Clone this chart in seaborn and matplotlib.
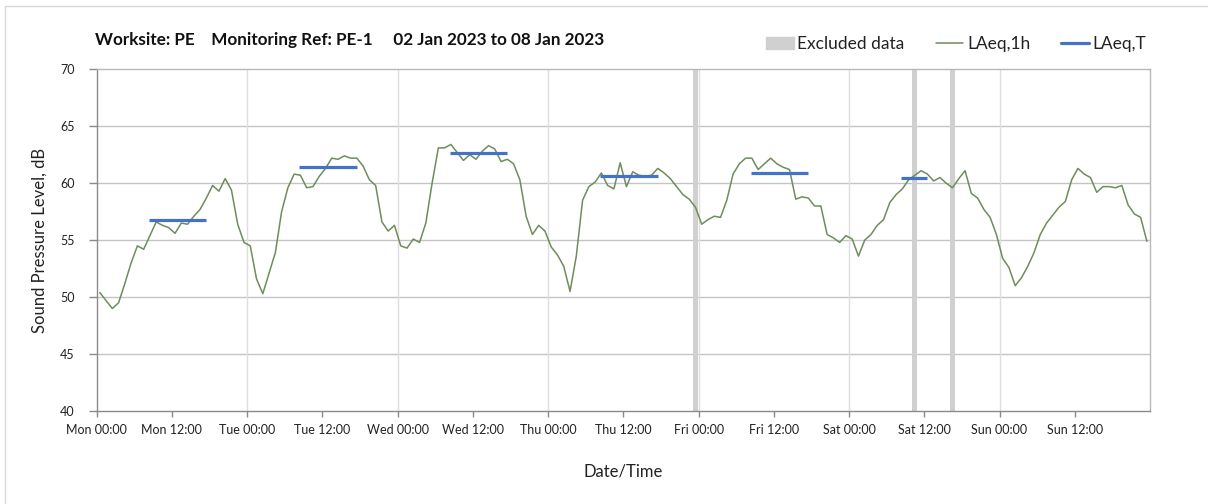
import numpy as np
import pandas as pd
import seaborn as sns
import matplotlib.pyplot as plt
from matplotlib.patches import Patch
from matplotlib.lines import Line2D

# hourly LAeq,1h values (dB), one list per day, starting at 00:00
mon = [50.4, 49.7, 49.0, 49.5, 51.2, 53.0, 54.5, 54.2, 55.4, 56.6, 56.3, 56.1,
       55.6, 56.5, 56.4, 57.1, 57.7, 58.7, 59.8, 59.3, 60.4, 59.4, 56.4, 54.8]
tue = [54.5, 51.6, 50.3, 52.1, 53.9, 57.5, 59.6, 60.8, 60.7, 59.6, 59.7, 60.6,
       61.3, 62.2, 62.1, 62.4, 62.2, 62.2, 61.5, 60.3, 59.8, 56.6, 55.8, 56.3]
wed = [54.5, 54.3, 55.1, 54.8, 56.5, 60.0, 63.1, 63.1, 63.4, 62.7, 62.0, 62.5,
       62.1, 62.8, 63.3, 63.0, 61.9, 62.1, 61.7, 60.3, 57.1, 55.5, 56.3, 55.8]
thu = [54.4, 53.7, 52.7, 50.5, 53.6, 58.5, 59.7, 60.1, 60.9, 59.8, 59.5, 61.8,
       59.7, 61.0, 60.7, 60.6, 60.7, 61.3, 60.9, 60.4, 59.7, 59.0, 58.6, 57.9]
fri = [56.4, 56.8, 57.1, 57.0, 58.5, 60.8, 61.7, 62.2, 62.2, 61.2, 61.7, 62.2,
       61.7, 61.4, 61.2, 58.6, 58.8, 58.7, 58.0, 58.0, 55.5, 55.2, 54.8, 55.4]
sat = [55.1, 53.6, 55.0, 55.5, 56.3, 56.8, 58.3, 59.0, 59.5, 60.3, 60.7, 61.1,
       60.8, 60.2, 60.5, 60.0, 59.6, 60.4, 61.1, 59.1, 58.7, 57.7, 57.0, 55.5]
sun = [53.4, 52.6, 51.0, 51.7, 52.7, 53.9, 55.5, 56.5, 57.2, 57.9, 58.4, 60.3,
       61.3, 60.8, 60.5, 59.2, 59.7, 59.7, 59.6, 59.8, 58.1, 57.3, 57.0, 54.9]

# LAeq,T over each daytime period (hours from Mon 00:00)
laeqt_start = [8.3, 32.3, 56.3, 80.3, 104.3, 128.3]
laeqt_end = [17.5, 41.5, 65.5, 89.5, 113.5, 132.5]
laeqt_value = [56.75, 61.45, 62.65, 60.65, 60.9, 60.5]

# hours flagged as excluded
excluded_hours = [95, 130, 136]

days = ["Mon", "Tue", "Wed", "Thu", "Fri", "Sat", "Sun"]
tick_labels = [f"{d} {h}" for d in days for h in ("00:00", "12:00")]

levels = mon + tue + wed + thu + fri + sat + sun
df = pd.DataFrame({"hour": np.arange(len(levels)) + 0.5, "level": levels})

sns.set_theme(style="white")
plt.rcParams["font.family"] = ["Lato", "DejaVu Sans"]

fig = plt.figure(figsize=(12.08, 5.04), dpi=100)
ax = fig.add_axes([0.080, 0.1845, 0.872, 0.678])

green = "#6f8c5c"
blue = "#4472c4"
band = "#d0d0d0"

for h in excluded_hours:
    ax.axvspan(h + 0.1, h + 0.9, color=band, lw=0, zorder=1)

sns.lineplot(data=df, x="hour", y="level", color=green, lw=1.1, ax=ax, zorder=3)
ax.hlines(laeqt_value, laeqt_start, laeqt_end, color=blue, lw=2.3, zorder=4)

ax.set_xlim(0, 168)
ax.set_ylim(40, 70)
ax.set_yticks(range(40, 71, 5))
ax.set_xticks(range(0, 168, 12))
ax.set_xticklabels(tick_labels)
ax.set_xlabel("Date/Time", fontsize=12, labelpad=20, color="#222222")
ax.set_ylabel("Sound Pressure Level, dB", fontsize=12, labelpad=9, color="#222222")

ax.grid(False)
for y in range(45, 70, 5):
    ax.axhline(y, color="#c4c4c4", lw=1, zorder=0)
for x in range(24, 168, 24):
    ax.axvline(x, color="#dedede", lw=1, zorder=0)

for side in ["left", "bottom"]:
    ax.spines[side].set_color("#8a8a8a")
for side in ["top", "right"]:
    ax.spines[side].set_color("#b8b8b8")
for s in ax.spines.values():
    s.set_linewidth(1)

ax.tick_params(axis="both", direction="out", length=4, width=1, color="#8a8a8a",
               labelsize=9, labelcolor="#222222")
ax.tick_params(axis="x", pad=5)
ax.tick_params(axis="y", length=6, pad=10)
ax.tick_params(bottom=True, left=True)

fig.text(0.0786, 0.921, "Worksite: PE    Monitoring Ref: PE-1     02 Jan 2023 to 08 Jan 2023",
         fontsize=12.3, fontweight="bold", ha="left", va="center", color="#111111")

handles = [Patch(color=band, label="Excluded data"),
           Line2D([], [], color=green, lw=1.1, label="LAeq,1h"),
           Line2D([], [], color=blue, lw=2.3, label="LAeq,T")]
fig.legend(handles=handles, loc="center right", bbox_to_anchor=(0.962, 0.912),
           ncol=3, frameon=False, fontsize=12.5, handlelength=1.6,
           handletextpad=0.2, columnspacing=1.8, labelcolor="#222222")

# chart border (left and top edges)
fig.add_artist(Line2D([0.004, 0.004], [0.0, 0.988], color="#d8d8d8", lw=1))
fig.add_artist(Line2D([0.004, 1.0], [0.988, 0.988], color="#d8d8d8", lw=1))

fig.savefig("out.png", dpi=100)
